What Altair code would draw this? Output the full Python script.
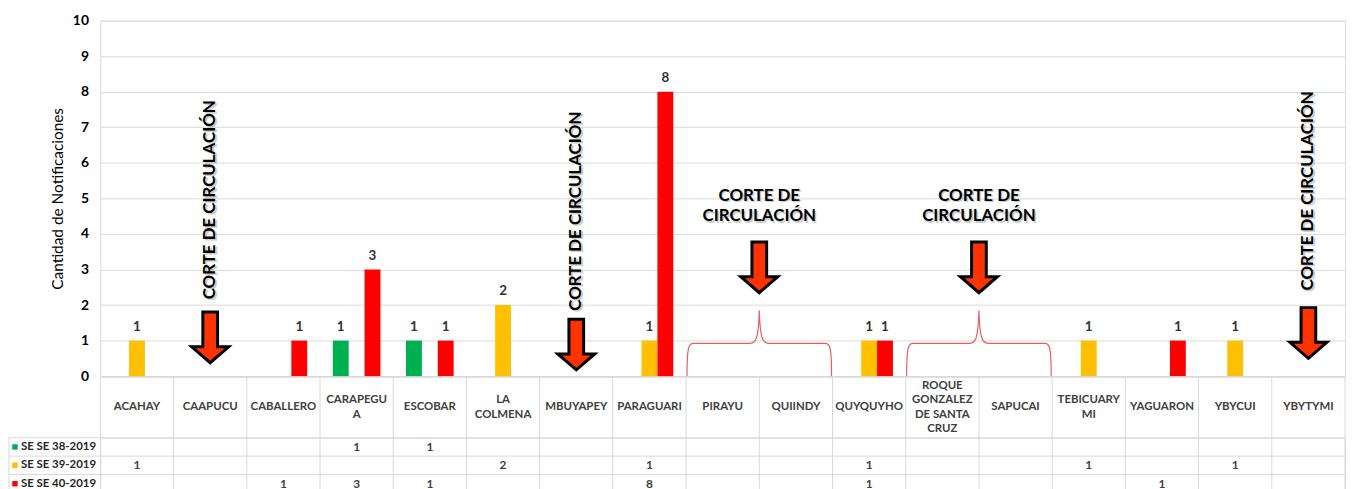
import altair as alt
import pandas as pd

# ---------------- data ----------------
categories = ["ACAHAY", "CAAPUCU", "CABALLERO", "CARAPEGUA", "ESCOBAR", "LA COLMENA",
              "MBUYAPEY", "PARAGUARI", "PIRAYU", "QUIINDY", "QUYQUYHO",
              "ROQUE GONZALEZ DE SANTA CRUZ", "SAPUCAI", "TEBICUARY MI", "YAGUARON",
              "YBYCUI", "YBYTYMI"]
header_labels = ["ACAHAY", "CAAPUCU", "CABALLERO", "CARAPEGU|A", "ESCOBAR", "LA|COLMENA",
                 "MBUYAPEY", "PARAGUARI", "PIRAYU", "QUIINDY", "QUYQUYHO",
                 "ROQUE|GONZALEZ|DE SANTA|CRUZ", "SAPUCAI", "TEBICUARY|MI", "YAGUARON",
                 "YBYCUI", "YBYTYMI"]
series = ["SE SE 38-2019", "SE SE 39-2019", "SE SE 40-2019"]
series_colors = ["#00B050", "#FFC000", "#FF0000"]
se38 = [None, None, None, 1, 1, None, None, None, None, None, None, None, None, None, None, None, None]
se39 = [1, None, None, None, None, 2, None, 1, None, None, 1, None, None, 1, None, 1, None]
se40 = [None, None, 1, 3, 1, None, None, 8, None, None, 1, None, None, None, 1, None, None]
y_ticks = list(range(11))

cut_label = "CORTE DE CIRCULACIÓN"
cut_label_wrapped = "CORTE DE\nCIRCULACIÓN"
cut_single = ["CAAPUCU", "MBUYAPEY", "YBYTYMI"]
cut_single_text_y = [4.96, 4.64, 5.21]
cut_single_arrow_y = [1.09, 0.89, 1.215]
cut_range_right = ["QUIINDY", "SAPUCAI"]   # brace spans PIRAYU-QUIINDY and ROQUE-SAPUCAI
cut_range_text_y = [4.78, 4.78]
cut_range_arrow_y = [3.06, 3.06]
cut_range_brace_y = [0.92, 0.92]

# ---------------- tables ----------------
hdr_of = dict(zip(categories, header_labels))
rows = []
for i, c in enumerate(categories):
    for s, vals in zip(series, [se38, se39, se40]):
        if vals[i] is not None:
            rows.append({"hdr": header_labels[i], "serie": s, "value": vals[i]})
df = pd.DataFrame(rows)
hdr_df = pd.DataFrame({"hdr": header_labels,
                       "lines": [h.count("|") + 1 for h in header_labels]})
ser_df = pd.DataFrame({"serie": series})
single_text_df = pd.DataFrame({"hdr": [hdr_of[c] for c in cut_single], "value": cut_single_text_y,
                               "label": [cut_label] * len(cut_single)})
single_arrow_df = pd.DataFrame({"hdr": [hdr_of[c] for c in cut_single], "value": cut_single_arrow_y})
range_text_df = pd.DataFrame({"hdr": [hdr_of[c] for c in cut_range_right], "value": cut_range_text_y,
                              "label": [cut_label_wrapped] * len(cut_range_right)})
range_arrow_df = pd.DataFrame({"hdr": [hdr_of[c] for c in cut_range_right], "value": cut_range_arrow_y})
range_brace_df = pd.DataFrame({"hdr": [hdr_of[c] for c in cut_range_right], "value": cut_range_brace_y})

# ---------------- styling ----------------
FONT = "Lato"
GRID = "#d9d9d9"
W = 1253
H = 358
HDR_H = 61
ROW_H = 18.5
TBL_H = ROW_H * 3
LH_HDR = 14.3
LH_CUT = 20.5

ARROW = "M -0.29 -1 L 0.29 -1 L 0.29 0.37 L 0.73 0.37 L 0 1 L -0.73 0.37 L -0.29 0.37 Z"
BRACE = ("M -0.99 0.45 C -0.99 0.05 -0.97 0 -0.9 0 L -0.14 0 C -0.05 0 -0.01 -0.05 0 -0.45 "
         "C 0.01 -0.05 0.05 0 0.14 0 L 0.9 0 C 0.97 0 0.99 0.05 0.99 0.45")

xscale = alt.Scale(domain=header_labels, paddingInner=0, paddingOuter=0)
yscale = alt.Scale(domain=[0, 10], nice=False)
y_axis = alt.Axis(values=y_ticks, grid=True, gridColor=GRID, domain=False, ticks=False,
                  labelPadding=12, labelFont=FONT, labelFontSize=14, labelFontWeight="bold",
                  labelColor="#000000", titleFont=FONT, titleFontSize=15.5,
                  titleFontWeight="normal", titleColor="#000000", titlePadding=7)


def X(**kw):
    return alt.X("hdr:N", scale=xscale, sort=header_labels, axis=None, title=None, **kw)


def Y():
    return alt.Y("value:Q", scale=yscale, axis=y_axis, title="Cantidad de Notificaciones")


XO = alt.XOffset("serie:N", scale=alt.Scale(domain=series, paddingInner=0, paddingOuter=0.806),
                 sort=series)
COLOR = alt.Color("serie:N", scale=alt.Scale(domain=series, range=series_colors), legend=None)

bars = alt.Chart(df).mark_bar().encode(x=X(), xOffset=XO, y=Y(), color=COLOR)
bar_labels = alt.Chart(df).mark_text(baseline="bottom", dy=-7, font=FONT, fontSize=13.5,
                                     fontWeight="bold", color="#333333").encode(
    x=X(), xOffset=XO, y=Y(), text="value:Q")

txt_style = dict(font=FONT, fontSize=17, fontWeight="bold", align="center", baseline="middle")
single_shadow = alt.Chart(single_text_df).mark_text(angle=270, color="#9a9a9a", opacity=0.5,
                                                    dx=-1.5, dy=1.5, **txt_style).encode(
    x=X(), y=Y(), text="label:N")
single_text = alt.Chart(single_text_df).mark_text(angle=270, color="#000000", **txt_style).encode(
    x=X(), y=Y(), text="label:N")
range_shadow = alt.Chart(range_text_df).mark_text(lineBreak="\n", lineHeight=LH_CUT, color="#9a9a9a",
                                                  opacity=0.5, dx=1.5, dy=1.5 - LH_CUT / 2,
                                                  **txt_style).encode(
    x=X(bandPosition=0), y=Y(), text="label:N")
range_text = alt.Chart(range_text_df).mark_text(lineBreak="\n", lineHeight=LH_CUT, color="#000000",
                                                dy=-LH_CUT / 2, **txt_style).encode(
    x=X(bandPosition=0), y=Y(), text="label:N")

arrow_style = dict(shape=ARROW, size=2601, filled=True, color="#FF3300", stroke="#000000",
                   strokeWidth=3, opacity=1)
single_arrows = alt.Chart(single_arrow_df).mark_point(**arrow_style).encode(x=X(), y=Y())
range_arrows = alt.Chart(range_arrow_df).mark_point(**arrow_style).encode(x=X(bandPosition=0), y=Y())
braces = alt.Chart(range_brace_df).mark_point(shape=BRACE, size=147 ** 2, filled=False,
                                              stroke="#E06060", strokeWidth=1.2, opacity=1).encode(
    x=X(bandPosition=0), y=Y())

top = alt.layer(bars, bar_labels, single_shadow, single_text, range_shadow, range_text,
                single_arrows, range_arrows, braces).properties(width=W, height=H)

# ---------------- data table (with category header row above it) ----------------
yrow = alt.Scale(domain=series, paddingInner=0, paddingOuter=0)


def TX(**kw):
    return alt.X("hdr:N", scale=xscale, sort=header_labels, axis=None, **kw)


def TY(**kw):
    return alt.Y("serie:N", scale=yrow, sort=series, axis=None, **kw)


top_line = alt.Chart(ser_df.head(1)).mark_rule(color=GRID).encode(
    x=alt.value(0), x2=alt.value(W), y=alt.value(-HDR_H))
vlines = alt.Chart(hdr_df).mark_rule(color=GRID).encode(
    x=TX(bandPosition=0), y=alt.value(-HDR_H), y2=alt.value(TBL_H))
vline_end = alt.Chart(hdr_df.tail(1)).mark_rule(color=GRID).encode(
    x=TX(bandPosition=1), y=alt.value(-HDR_H), y2=alt.value(TBL_H))
hlines = alt.Chart(ser_df).mark_rule(color=GRID).encode(
    y=TY(bandPosition=0), x=alt.value(-92), x2=alt.value(W))
hline_end = alt.Chart(ser_df.tail(1)).mark_rule(color=GRID).encode(
    y=TY(bandPosition=1), x=alt.value(-92), x2=alt.value(W))
left_border = alt.Chart(ser_df.head(1)).mark_rule(color=GRID).encode(
    x=alt.value(-92), y=alt.value(0), y2=alt.value(TBL_H))

hdr_style = dict(font=FONT, fontSize=11.5, fontWeight="bold", color="#404040", baseline="middle",
                 align="center", lineBreak="|", lineHeight=LH_HDR)
hdr_layers = []
for n in sorted(set(hdr_df["lines"])):
    hdr_layers.append(
        alt.Chart(hdr_df).transform_filter(alt.datum.lines == n).mark_text(
            dy=-(n - 1) * LH_HDR / 2, **hdr_style).encode(
            x=TX(), y=alt.value(-HDR_H / 2), text="hdr:N"))

cell_values = alt.Chart(df).mark_text(font=FONT, fontSize=12, fontWeight="bold",
                                      color="#404040").encode(
    x=TX(), y=TY(), text="value:Q")
row_labels = alt.Chart(ser_df).mark_text(align="left", font=FONT, fontSize=11.5, fontWeight="bold",
                                         color="#262626").encode(
    x=alt.value(-80), y=TY(), text="serie:N")
row_keys = alt.Chart(ser_df).mark_point(shape="square", filled=True, size=30, opacity=1).encode(
    x=alt.value(-86), y=TY(), color=COLOR)

table = alt.layer(top_line, vlines, vline_end, hlines, hline_end, left_border, *hdr_layers,
                  cell_values, row_labels, row_keys).properties(width=W, height=TBL_H)

chart = alt.vconcat(top, table, spacing=-8).resolve_scale(
    x="independent", y="independent"
).properties(
    padding={"left": 0, "top": 3, "right": 0, "bottom": 0}
).configure_view(stroke=None).configure(background="white")

chart.save("out.html", embed_options={"renderer": "svg", "actions": False})
